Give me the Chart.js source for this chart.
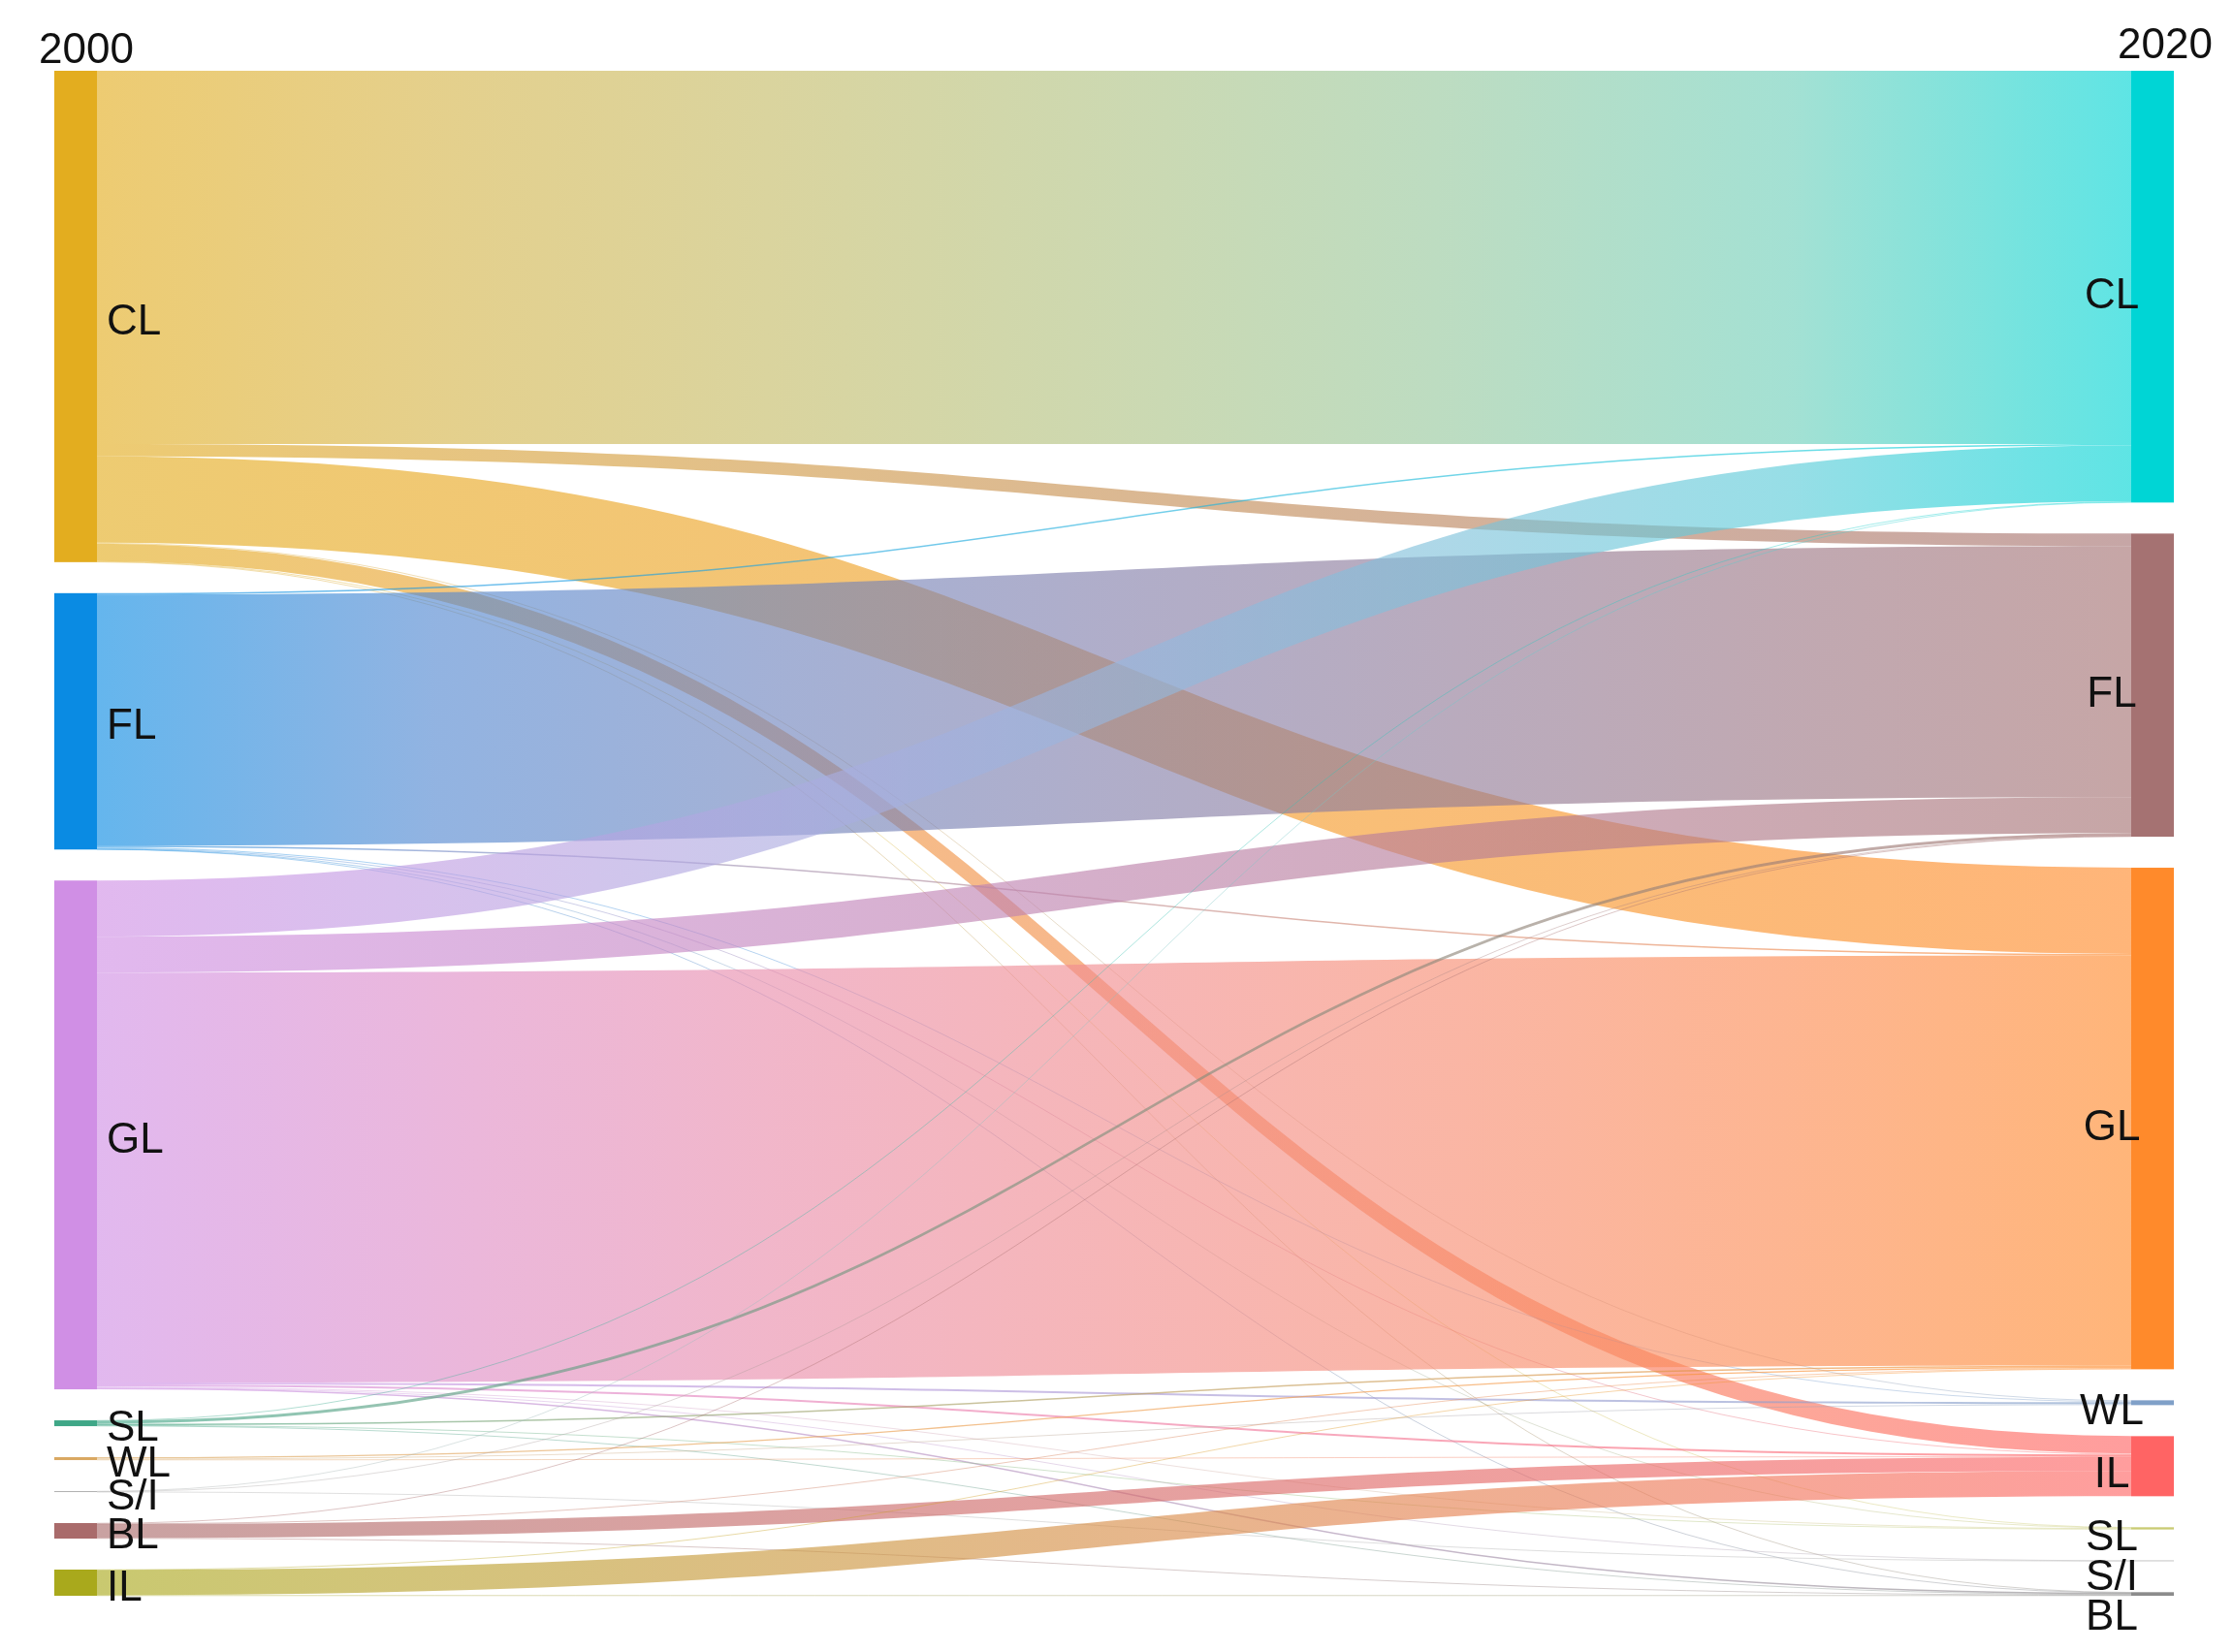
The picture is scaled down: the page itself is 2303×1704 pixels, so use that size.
<!DOCTYPE html>
<html lang="en">
<head>
    <meta charset="UTF-8">
    <title>Land use transfer 2000-2020</title>
    <script src="https://cdn.jsdelivr.net/npm/chart.js"></script>
    <style>
        body {
            margin: 0;
            padding: 0;
            background: #ffffff;
            overflow: hidden;
        }
        canvas {
            display: block;
        }
    </style>
</head>
<body>
    <canvas id="sankeyChart" width="2303" height="1704"></canvas>

    <script>
        // columns
        const years = [2000, 2020];
        const nodes2000 = ['CL', 'FL', 'GL', 'SL', 'WL', 'S/I', 'BL', 'IL'];
        const nodes2020 = ['CL', 'FL', 'GL', 'WL', 'IL', 'SL', 'S/I', 'BL'];

        // flows out of each 2000 class, in the order of nodes2020
        const flowCL = [385, 13, 89, 1, 18, 0.5, 0, 0.5];
        const flowFL = [1.5, 259, 1.5, 1, 1, 0.3, 0, 0.2];
        const flowGL = [58, 37, 423, 2, 2, 1, 0.5, 1.5];
        const flowSL = [0.5, 3, 1.5, 0, 0, 0.5, 0, 0.5];
        const flowWL = [0, 0, 1.5, 1, 0.5, 0, 0, 0];
        const flowSI = [0.5, 0.3, 0, 0, 0, 0, 0.2, 0];
        const flowBL = [0, 0.5, 0.5, 0, 14.5, 0, 0, 0.5];
        const flowIL = [0, 0, 0.5, 0, 26, 0, 0, 0.5];
        const flows = [flowCL, flowFL, flowGL, flowSL, flowWL, flowSI, flowBL, flowIL];

        // styling
        const colors2000 = ['#E3AD1F', '#0A8BE3', '#D08FE5', '#3FA787', '#D9A861', '#B0B0B0', '#A96B6B', '#A9A91C'];
        const colors2020 = ['#00D5D5', '#A57272', '#FF8A2B', '#80A0C8', '#FF6464', '#C9CB73', '#AAAAAA', '#8C8C8C'];
        const NODE_PAD = 32;     // gap between nodes, in value units
        const NODE_WIDTH = 44;   // px
        const LINK_ALPHA = 0.63;
        const FONT = '44px "Liberation Sans", Arial, sans-serif';

        const colTotal = (arr) => arr.reduce((a, b) => a + b, 0);
        const leftTotals = flows.map(colTotal);
        const rightTotals = nodes2020.map((_, j) => colTotal(flows.map(f => f[j])));
        const yMax = Math.max(colTotal(leftTotals) + NODE_PAD * (nodes2000.length - 1),
                              colTotal(rightTotals) + NODE_PAD * (nodes2020.length - 1));

        function hexRgb(hex) {
            const n = parseInt(hex.slice(1), 16);
            return [n >> 16, (n >> 8) & 255, n & 255];
        }

        // colour mixing in Lab so the link gradients go through soft tones
        function rgbToLab(c) {
            const lin = c.map(v => { v /= 255; return v <= 0.04045 ? v / 12.92 : Math.pow((v + 0.055) / 1.055, 2.4); });
            const x = (lin[0] * 0.4124 + lin[1] * 0.3576 + lin[2] * 0.1805) / 0.95047;
            const y = (lin[0] * 0.2126 + lin[1] * 0.7152 + lin[2] * 0.0722);
            const z = (lin[0] * 0.0193 + lin[1] * 0.1192 + lin[2] * 0.9505) / 1.08883;
            const f = t => t > 0.008856 ? Math.cbrt(t) : 7.787 * t + 16 / 116;
            return [116 * f(y) - 16, 500 * (f(x) - f(y)), 200 * (f(y) - f(z))];
        }
        function labToRgb(l) {
            const fy = (l[0] + 16) / 116, fx = fy + l[1] / 500, fz = fy - l[2] / 200;
            const inv = t => t * t * t > 0.008856 ? t * t * t : (t - 16 / 116) / 7.787;
            const x = inv(fx) * 0.95047, y = inv(fy), z = inv(fz) * 1.08883;
            const r = x * 3.2406 + y * -1.5372 + z * -0.4986;
            const g = x * -0.9689 + y * 1.8758 + z * 0.0415;
            const b = x * 0.0557 + y * -0.2040 + z * 1.0570;
            return [r, g, b].map(v => {
                v = v <= 0.0031308 ? 12.92 * v : 1.055 * Math.pow(v, 1 / 2.4) - 0.055;
                return Math.round(Math.min(255, Math.max(0, v * 255)));
            });
        }
        function linkGradient(ctx, x0, x1, c0, c1, alpha) {
            const g = ctx.createLinearGradient(x0, 0, x1, 0);
            const a = rgbToLab(hexRgb(c0)), b = rgbToLab(hexRgb(c1));
            for (let k = 0; k <= 6; k++) {
                const t = k / 6;
                const c = labToRgb([0, 1, 2].map(m => a[m] + (b[m] - a[m]) * t));
                g.addColorStop(t, 'rgba(' + c.join(',') + ',' + alpha + ')');
            }
            return g;
        }

        function stack(totals) {
            let acc = 0;
            return totals.map(t => {
                const start = acc;
                acc += t + NODE_PAD;
                return { y0: start, y1: start + t };
            });
        }

        const sankeyPlugin = {
            id: 'sankey',
            afterDatasetsDraw(chart) {
                const ctx = chart.ctx;
                const xs = chart.scales.x;
                const ys = chart.scales.y;
                const xLeft = xs.getPixelForValue(years[0]);
                const xRight = xs.getPixelForValue(years[1]);
                const half = NODE_WIDTH / 2;
                const x0 = xLeft + half;   // link start
                const x1 = xRight - half;  // link end

                const left = stack(leftTotals);
                const right = stack(rightTotals);

                // link offsets inside each node
                const outOff = left.map(n => n.y0);
                const inOff = right.map(n => n.y0);
                const links = [];
                flows.forEach((row, i) => {
                    row.forEach((v, j) => {
                        if (v <= 0) return;
                        links.push({ i, j, v, s0: outOff[i], t0: 0 });
                        outOff[i] += v;
                    });
                });
                // incoming sorted by source order
                for (let j = 0; j < nodes2020.length; j++) {
                    links.filter(l => l.j === j).sort((a, b) => a.i - b.i).forEach(l => {
                        l.t0 = inOff[j];
                        inOff[j] += l.v;
                    });
                }

                ctx.save();
                const xm = (x0 + x1) / 2;
                links.forEach(l => {
                    const sy0 = ys.getPixelForValue(l.s0);
                    const sy1 = ys.getPixelForValue(l.s0 + l.v);
                    const ty0 = ys.getPixelForValue(l.t0);
                    const ty1 = ys.getPixelForValue(l.t0 + l.v);
                    if (Math.abs(sy1 - sy0) < 1.2) {
                        const sc = (sy0 + sy1) / 2, tc = (ty0 + ty1) / 2;
                        ctx.beginPath();
                        ctx.moveTo(x0, sc);
                        ctx.bezierCurveTo(xm, sc, xm, tc, x1, tc);
                        ctx.lineWidth = 1;
                        ctx.strokeStyle = linkGradient(ctx, x0, x1, colors2000[l.i], colors2020[l.j], 0.4);
                        ctx.stroke();
                    } else {
                        ctx.beginPath();
                        ctx.moveTo(x0, sy0);
                        ctx.bezierCurveTo(xm, sy0, xm, ty0, x1, ty0);
                        ctx.lineTo(x1, ty1);
                        ctx.bezierCurveTo(xm, ty1, xm, sy1, x0, sy1);
                        ctx.closePath();
                        ctx.fillStyle = linkGradient(ctx, x0, x1, colors2000[l.i], colors2020[l.j], LINK_ALPHA);
                        ctx.fill();
                    }
                });

                // nodes
                left.forEach((n, i) => {
                    const top = ys.getPixelForValue(n.y0);
                    const bot = ys.getPixelForValue(n.y1);
                    ctx.fillStyle = colors2000[i];
                    ctx.fillRect(xLeft - half, top, NODE_WIDTH, Math.max(bot - top, 0.6));
                });
                right.forEach((n, j) => {
                    const top = ys.getPixelForValue(n.y0);
                    const bot = ys.getPixelForValue(n.y1);
                    ctx.fillStyle = colors2020[j];
                    ctx.fillRect(xRight - half, top, NODE_WIDTH, Math.max(bot - top, 0.6));
                });

                // labels
                ctx.font = FONT;
                ctx.fillStyle = '#111';
                ctx.textBaseline = 'middle';
                ctx.textAlign = 'left';
                left.forEach((n, i) => {
                    const c = ys.getPixelForValue((n.y0 + n.y1) / 2) + 6;
                    ctx.fillText(nodes2000[i], x0 + 10, c);
                });
                ctx.textAlign = 'center';
                let prev = -Infinity;
                right.forEach((n, j) => {
                    let c = ys.getPixelForValue((n.y0 + n.y1) / 2) + 10;
                    c = Math.max(c, prev + 41);
                    prev = c;
                    ctx.fillText(nodes2020[j], x1 - 20, c);
                });

                // column titles
                ctx.textBaseline = 'alphabetic';
                ctx.textAlign = 'left';
                ctx.fillText(String(years[0]), xLeft - 38, chart.chartArea.top - 8);
                ctx.textAlign = 'right';
                ctx.fillText(String(years[1]), xRight + 62, chart.chartArea.top - 13);
                ctx.restore();
            }
        };

        const sankeyCtx = document.getElementById('sankeyChart').getContext('2d');
        new Chart(sankeyCtx, {
            type: 'scatter',
            data: { datasets: [{ data: [] }] },
            options: {
                responsive: false,
                animation: false,
                devicePixelRatio: 1,
                layout: { padding: { left: 78, right: 83, top: 73, bottom: 58 } },
                scales: {
                    x: { type: 'linear', min: years[0], max: years[1], display: false },
                    y: { type: 'linear', min: 0, max: yMax, reverse: true, display: false }
                },
                plugins: {
                    legend: { display: false },
                    tooltip: { enabled: false }
                }
            },
            plugins: [sankeyPlugin]
        });
    </script>
</body>
</html>
